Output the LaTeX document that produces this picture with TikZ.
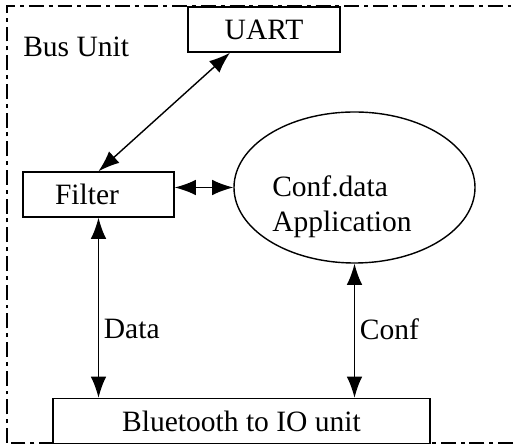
\documentclass[tikz,border=0pt]{standalone}
\usepackage{fontspec}
\setmainfont{Liberation Serif}
\usetikzlibrary{arrows.meta,shapes.geometric}
\tikzset{
  >={Latex[length=15pt,width=11pt]},
  blk/.style={draw,line width=1pt,fill=white,minimum height=1.125cm,inner sep=0pt},
  frame/.style={line width=1.4pt,dash pattern=on 10.6pt off 3.5pt on 2.8pt off 3.5pt},
  link/.style={<->,line width=1pt}
}
\begin{document}
\begin{tikzpicture}[x=1cm,y=1cm,font=\fontsize{21}{25}\selectfont]
    \useasboundingbox (0,0) rectangle (12.9,11.175);
    \draw[frame] (0.175,0.1) rectangle (13.5,11.025);
    \node[anchor=base west,inner sep=0pt] (bus) at (0.575,9.75) {Bus Unit};
    \node[blk,minimum width=3.8cm] (uart) at (6.6,10.4375) {UART};
    \node[blk,text width=2.175cm,align=left,inner xsep=0.8cm] (filter) at (2.4625,6.3125) {Filter};
    \node[ellipse,draw,line width=1pt,minimum width=6.025cm,minimum height=3.775cm,inner sep=0pt] (app) at (8.8625,6.4875) {};
    \node[anchor=north west,align=left,inner sep=0pt] (apptext) at (6.8,6.8) {Conf.data\\Application};
    \node[blk,minimum width=9.425cm] (bt) at (6.0375,0.65) {Bluetooth to IO unit};
    \draw[link] ([xshift=-0.85cm]uart.south) -- (filter.north);
    \draw[link] (filter.east |- app.west) -- (app.west);
    \draw[link] (filter.south) -- node[right,pos=0.62] (data) {Data} (filter.south |- bt.north);
    \draw[link] (app.south) -- node[right,pos=0.49] (conf) {Conf} (app.south |- bt.north);
  \end{tikzpicture}
\end{document}
